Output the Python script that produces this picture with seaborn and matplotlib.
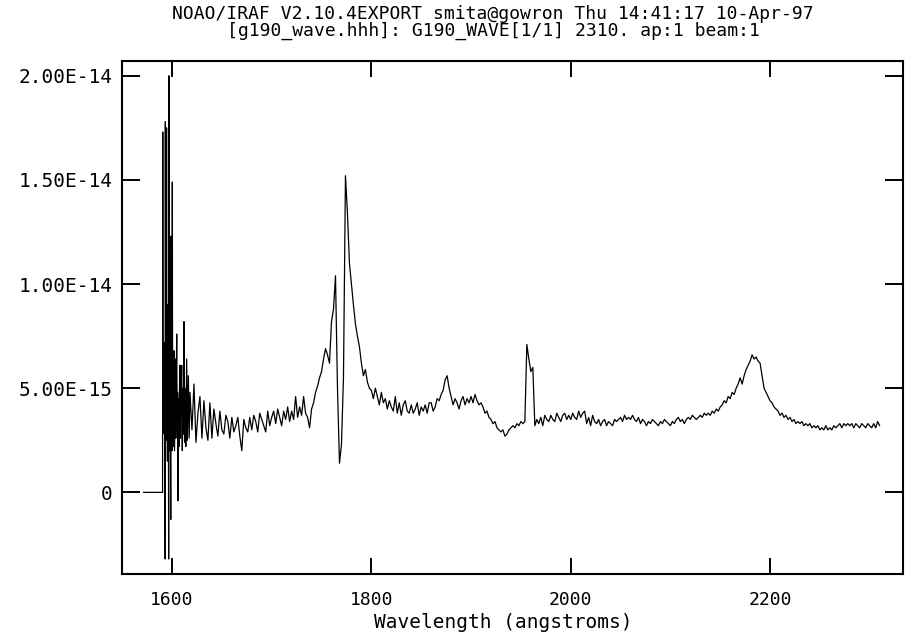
import warnings
warnings.filterwarnings("ignore")

import numpy as np
import matplotlib
matplotlib.use("Agg")
import matplotlib.pyplot as plt
import seaborn as sns
from matplotlib.ticker import FuncFormatter

sns.set_style("ticks")
plt.rcParams["font.family"] = ["DejaVu Sans Mono", "DejaVu Sans"]
plt.rcParams["text.color"] = "black"
plt.rcParams["xtick.color"] = "black"
plt.rcParams["ytick.color"] = "black"

# Title lines (IRAF header)
title_1 = "NOAO/IRAF V2.10.4EXPORT smita@gowron Thu 14:41:17 10-Apr-97"
title_2 = "[g190_wave.hhh]: G190_WAVE[1/1] 2310. ap:1 beam:1"
x_label = "Wavelength (angstroms)"

x_ticks = [1600, 1800, 2000, 2200]
y_ticks = [0, 5e-15, 1e-14, 1.5e-14, 2e-14]

# Blue noisy edge of the spectrum (wavelength, flux in 1e-15)
edge_wave = [1571.2, 1590.5, 1590.7, 1591.0, 1591.3, 1591.6, 1591.9, 1592.2, 1592.5, 1592.8,
             1593.1, 1593.3, 1593.6, 1593.9, 1594.2, 1594.5, 1594.8, 1595.1, 1595.4, 1595.7,
             1596.0, 1596.3, 1596.6, 1596.9, 1597.2, 1597.5, 1597.8, 1598.1, 1598.4, 1598.7,
             1599.0, 1599.3, 1599.6, 1599.9, 1600.3, 1600.6, 1601.0, 1601.4, 1602.0, 1602.5,
             1603.0, 1603.3, 1603.8, 1604.2, 1604.7, 1605.2, 1605.6, 1606.0, 1606.5, 1607.0,
             1607.5, 1608.0, 1608.5, 1609.0, 1609.7, 1610.3, 1611.0, 1611.5, 1612.0, 1612.6,
             1613.2, 1613.8, 1614.7, 1615.4, 1616.4, 1617.2, 1618.0]
edge_flux = [0.0, 0.0, 17.3, 3.5, 7.0, 3.0, 6.5, 2.8, 7.2, 4.0,
             -3.2, 17.8, 3.2, 6.9, 2.5, 17.5, 4.5, 6.8, 1.5, 9.0,
             3.0, 7.0, -3.2, 20.0, 3.5, 6.8, 2.0, 7.5, 3.5, -1.3,
             12.3, 4.0, 6.0, 2.0, 14.9, 3.0, 5.5, 2.2, 6.8, 2.0,
             5.0, 6.4, 2.6, 5.2, 7.6, 3.0, 4.8, -0.4, 4.5, 2.2,
             5.0, 6.1, 2.6, 4.6, 6.1, 2.0, 5.0, 2.8, 8.2, 2.4,
             5.0, 2.2, 6.4, 2.5, 5.6, 2.6, 4.8]

# Main spectrum, sampled every 2 A from 1620 A (flux in 1e-15)
grid_start = 1620
grid_step = 2
main_flux = [
    3.0, 5.2, 2.4, 3.8, 4.6, 2.6, 4.4, 3.1, 2.5, 4.3,   # 1620
    2.6, 4.0, 3.3, 2.7, 3.9, 3.0, 2.8, 3.7, 3.4, 2.6,   # 1640
    3.6, 2.9, 3.2, 3.6, 2.7, 2.0, 3.5, 3.1, 2.9, 3.6,   # 1660
    3.0, 3.7, 3.4, 2.9, 3.8, 3.5, 3.2, 2.9, 3.9, 3.2,   # 1680
    3.6, 3.9, 3.3, 4.0, 3.6, 3.2, 3.9, 3.5, 4.1, 3.4,   # 1700
    3.9, 3.5, 4.6, 3.6, 4.1, 3.7, 4.6, 3.8, 3.6, 3.1,   # 1720
    4.0, 4.3, 4.8, 5.1, 5.5, 5.8, 6.4, 6.9, 6.6, 6.2,   # 1740
    8.2, 8.8, 10.4, 5.0, 1.4, 2.3, 5.5, 15.2, 13.4, 11.0,  # 1760
    10.0, 9.0, 8.1, 7.5, 7.0, 6.2, 5.6, 5.9, 5.3, 5.0,  # 1780
    4.9, 4.5, 5.0, 4.6, 4.2, 4.8, 4.3, 4.5, 4.0, 4.4,   # 1800
    4.1, 3.9, 4.6, 3.8, 4.3, 3.7, 4.2, 4.4, 3.9, 3.8,   # 1820
    4.2, 3.8, 4.0, 4.3, 3.7, 4.1, 3.9, 4.2, 3.8, 4.3,   # 1840
    4.3, 3.9, 4.1, 4.5, 4.4, 4.7, 4.9, 5.4, 5.6, 5.0,   # 1860
    4.6, 4.2, 4.5, 4.3, 4.0, 4.4, 4.6, 4.2, 4.5, 4.3,   # 1880
    4.6, 4.3, 4.7, 4.4, 4.2, 4.3, 4.1, 3.8, 3.9, 3.6,   # 1900
    3.5, 3.3, 3.4, 3.1, 3.0, 2.9, 3.0, 2.7, 2.8, 3.0,   # 1920
    3.1, 3.2, 3.1, 3.3, 3.2, 3.4, 3.3, 3.4, 7.1, 6.4,   # 1940
    5.8, 6.0, 3.2, 3.5, 3.3, 3.6, 3.2, 3.7, 3.5, 3.4,   # 1960
    3.7, 3.5, 3.4, 3.8, 3.6, 3.4, 3.7, 3.8, 3.5, 3.7,   # 1980
    3.5, 3.8, 3.6, 3.5, 3.9, 3.6, 3.8, 3.9, 3.3, 3.6,   # 2000
    3.2, 3.7, 3.4, 3.3, 3.5, 3.2, 3.4, 3.5, 3.2, 3.4,   # 2020
    3.3, 3.2, 3.5, 3.4, 3.5, 3.6, 3.4, 3.7, 3.5, 3.6,   # 2040
    3.5, 3.7, 3.5, 3.4, 3.6, 3.3, 3.5, 3.4, 3.2, 3.4,   # 2060
    3.3, 3.5, 3.4, 3.3, 3.2, 3.4, 3.3, 3.5, 3.4, 3.3,   # 2080
    3.2, 3.4, 3.3, 3.5, 3.6, 3.4, 3.5, 3.3, 3.5, 3.6,   # 2100
    3.5, 3.7, 3.6, 3.5, 3.6, 3.7, 3.6, 3.8, 3.7, 3.8,   # 2120
    3.7, 3.9, 3.8, 4.0, 3.9, 4.1, 4.2, 4.4, 4.3, 4.6,   # 2140
    4.5, 4.8, 4.7, 5.0, 5.2, 5.5, 5.2, 5.6, 5.9, 6.1,   # 2160
    6.3, 6.6, 6.4, 6.5, 6.3, 6.2, 5.6, 5.0, 4.8, 4.6,   # 2180
    4.4, 4.3, 4.1, 4.0, 3.9, 3.7, 3.8, 3.6, 3.7, 3.5,   # 2200
    3.6, 3.4, 3.5, 3.3, 3.4, 3.3, 3.4, 3.2, 3.3, 3.2,   # 2220
    3.3, 3.1, 3.2, 3.1, 3.2, 3.0, 3.1, 3.0, 3.2, 3.0,   # 2240
    3.1, 3.0, 3.2, 3.1, 3.2, 3.3, 3.1, 3.3, 3.2, 3.3,   # 2260
    3.2, 3.3, 3.1, 3.3, 3.2, 3.1, 3.3, 3.2, 3.1, 3.3,   # 2280
    3.2, 3.1, 3.3, 3.1, 3.4, 3.2,                       # 2300
]

main_wave = grid_start + grid_step * np.arange(len(main_flux))
wave = np.concatenate([edge_wave, main_wave])
flux = np.concatenate([edge_flux, main_flux]) * 1e-15

fig = plt.figure(figsize=(9.07, 6.38), dpi=100)
ax = fig.add_axes([122 / 907, 64 / 638, 781 / 907, 513 / 638])

sns.lineplot(x=wave, y=flux, ax=ax, color="black", linewidth=0.9,
             sort=False, estimator=None)

ax.set_xlim(1549.8, 2333.4)
ax.set_ylim(-3.92e-15, 20.71e-15)
ax.set_xticks(x_ticks)
ax.set_yticks(y_ticks)
ax.yaxis.set_major_formatter(FuncFormatter(lambda v, p: "0" if v == 0 else f"{v:.2E}"))
ax.tick_params(axis="x", direction="in", length=11.5, width=1.4, top=True,
               labelsize=13, pad=12, colors="black")
ax.tick_params(axis="y", direction="in", length=13, width=1.4, right=True,
               labelsize=14, pad=7, colors="black")
ax.minorticks_off()
for s in ax.spines.values():
    s.set_linewidth(1.5)
    s.set_color("black")
ax.set_xlabel("")
ax.set_ylabel("")

fig.text(493 / 907, 1 - 14 / 638, title_1, ha="center", va="center", fontsize=13)
fig.text(493 / 907, 1 - 31 / 638, title_2, ha="center", va="center", fontsize=13)
fig.text(503 / 907, 1 - 623 / 638, x_label, ha="center", va="center", fontsize=14)

fig.savefig("out.png", dpi=100)
